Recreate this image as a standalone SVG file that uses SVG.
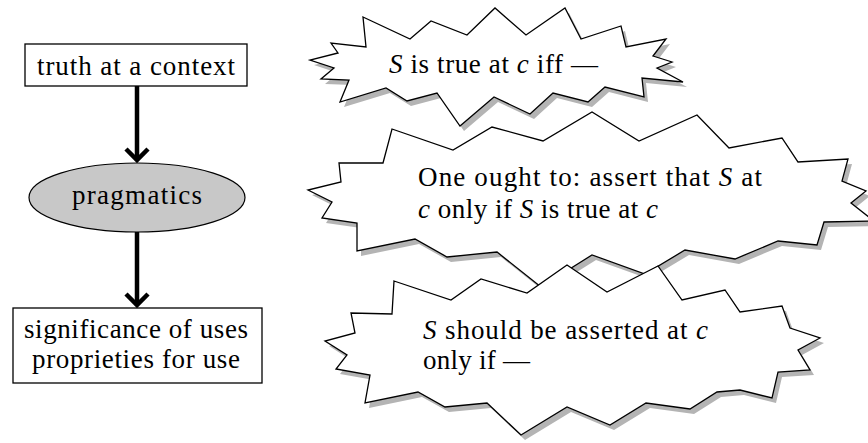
<svg xmlns="http://www.w3.org/2000/svg" width="868" height="443" viewBox="0 0 868 443">
<defs>
<style>
.box{fill:#fff;stroke:#000;stroke-width:1.3}
.ell{fill:#c8c8c8;stroke:#000;stroke-width:1.2}
.star{fill:#fff;stroke:#000;stroke-width:1.3;stroke-linejoin:miter}
.shadow{fill:#b4b4b4;stroke:none}
.t{font-family:"Liberation Serif","Times New Roman",serif;font-size:27px;fill:#000}
.i{font-style:italic}
.arrow{fill:none;stroke:#000;stroke-width:4.5}
</style>
<polygon id="p1" points="363,17 410,39 431,21 467,35 495,8 526,35 565,8 581,39 621,26 626,47 666,39 653,56 672,62 657,68 683,82 642,78 644,97 605,87 588,102 553,93 530,114 494,97 460,126 437,93 407,101 386,88 340,102 349,80 321,79 334,68 310,60 338,53 331,43 366,47"/>
<polygon id="p2" points="392,129 453,150 492,127 543,141 592,112 639,141 697,115 729,148 782,138 798,162 848,159 842,181 866,191 851,203 874,221 824,222 817,245 778,241 735,259 685,250 645,274 592,255 541,287 497,252 447,257 415,239 357,251 357,223 322,218 332,202 308,190 341,182 339,163 383,163"/>
<polygon id="p3" points="394,281 451,300 481,279 527,293 567,265 607,292 658,266 682,300 725,290 740,312 782,306 790,328 820,338 798,350 810,370 778,372 772,398 740,390 717,392 690,409 646,403 610,425 567,407 521,435 487,403 445,407 418,392 365,403 370,375 336,369 347,355 325,341 355,333 351,313 392,314"/>
</defs>
<g id="node-truth">
<rect class="box" x="25" y="44" width="222" height="42"/>
<text class="t" x="37" y="75" textLength="198" lengthAdjust="spacing">truth at a context</text>
</g>
<g id="node-pragmatics">
<ellipse class="ell" cx="137" cy="197.5" rx="108" ry="34.5"/>
<text class="t" x="72" y="204" textLength="130" lengthAdjust="spacing">pragmatics</text>
</g>
<g id="node-significance">
<rect class="box" x="13" y="308" width="249" height="75"/>
<text class="t" x="24" y="338" textLength="224" lengthAdjust="spacing">significance of uses</text>
<text class="t" x="32" y="368" textLength="208" lengthAdjust="spacing">proprieties for use</text>
</g>
<g id="connectors">
<line class="arrow" x1="137" y1="86" x2="137" y2="160"/>
<polyline class="arrow" points="126,149 137,160 148,149"/>
<line class="arrow" x1="137" y1="232" x2="137" y2="305"/>
<polyline class="arrow" points="126,294 137,305 148,294"/>
</g>
<g id="star-1">
<use href="#p1" class="shadow" transform="translate(4,5)"/>
<use href="#p1" class="star"/>
<text class="t" x="389" y="73" textLength="209" lengthAdjust="spacing"><tspan class="i">S</tspan> is true at <tspan class="i">c</tspan> iff —</text>
</g>
<g id="star-2">
<use href="#p2" class="shadow" transform="translate(4,5)"/>
<use href="#p2" class="star"/>
<text class="t" x="418" y="186" textLength="344" lengthAdjust="spacing">One ought to: assert that <tspan class="i">S</tspan> at</text>
<text class="t" x="418" y="218" textLength="240" lengthAdjust="spacing"><tspan class="i">c</tspan> only if <tspan class="i">S</tspan> is true at <tspan class="i">c</tspan></text>
</g>
<g id="star-3">
<use href="#p3" class="shadow" transform="translate(4,5)"/>
<use href="#p3" class="star"/>
<text class="t" x="423" y="339" textLength="285" lengthAdjust="spacing"><tspan class="i">S</tspan> should be asserted at <tspan class="i">c</tspan></text>
<text class="t" x="423" y="369" textLength="107" lengthAdjust="spacing">only if —</text>
</g>
</svg>
